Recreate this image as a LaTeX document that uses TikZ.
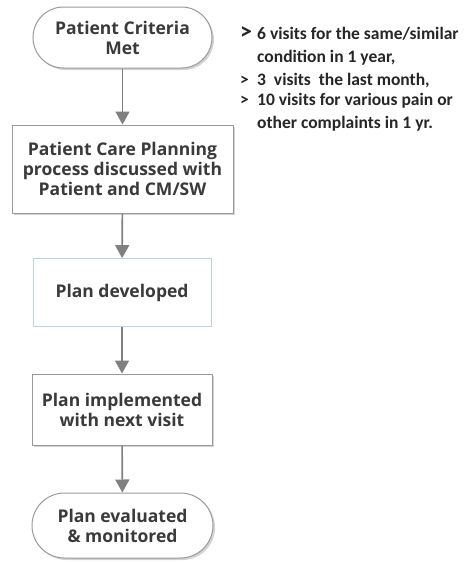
\documentclass[tikz,border=0pt]{standalone}
\usepackage{fontspec}
\usetikzlibrary{shapes.misc,shadows,arrows.meta}
\newfontfamily\boxfont{Open Sans}[BoldFont={Open Sans Bold}]
\newfontfamily\notefont{Carlito}
\definecolor{boxline}{HTML}{9A9A9A}
\definecolor{paleblue}{HTML}{BCD3E6}
\definecolor{arrowgray}{HTML}{808080}
\definecolor{inkgray}{HTML}{3A3A3A}

\begin{document}
\begin{tikzpicture}[x=1pt,y=-1pt,
  every node/.style={font=\boxfont\bfseries\fontsize{17.5}{20}\selectfont, text=inkgray, align=center},
  shade box/.style={drop shadow={shadow xshift=2pt,shadow yshift=-2pt,opacity=.35}},
  terminal/.style={draw=boxline, line width=1pt, fill=white, rounded rectangle, shade box, inner sep=0pt},
  stepbox/.style={draw=boxline, line width=1pt, fill=white, rectangle, shade box, inner sep=0pt},
  flow/.style={-{Triangle[length=13pt,width=14pt]}, draw=arrowgray, line width=1.6pt}]
\useasboundingbox (0,0) rectangle (468,562);

% flow of care
\node[terminal, minimum width=179pt, minimum height=61pt] (criteria) at (122.5,37.5) {Patient Criteria\\Met};
\node[stepbox, minimum width=221pt, minimum height=88pt] (planning) at (122.5,169) {Patient Care Planning\\process discussed with\\Patient and CM/SW};
\node[draw=paleblue, line width=0.8pt, minimum width=178pt, minimum height=68pt] (developed) at (122,292.5) {Plan developed};
\node[stepbox, minimum width=180pt, minimum height=71pt] (implemented) at (122,409.5) {Plan implemented\\with next visit};
\node[terminal, minimum width=181pt, minimum height=65pt] (evaluated) at (122.5,525.5) {Plan evaluated\\\& monitored};

\draw[flow] (criteria) -- (planning);
\draw[flow] (planning) -- (developed);
\draw[flow] (developed) -- (implemented);
\draw[flow] (implemented) -- (evaluated);

% criteria note
\node[anchor=north west, align=left, inner sep=0pt, font=\notefont\bfseries\fontsize{17.5}{23}\selectfont, text=black!85] (note) at (240,26)
  {\makebox[17pt][l]{\fontsize{24}{23}\selectfont>}6 visits for the same/similar\\
   \makebox[17pt][l]{}condition in 1 year,\\
   \makebox[17pt][l]{>}3\ \ visits\ \ the last month,\\[-3pt]
   \makebox[17pt][l]{>}10 visits for various pain or\\
   \makebox[17pt][l]{}other complaints in 1 yr.};
\end{tikzpicture}
\end{document}
